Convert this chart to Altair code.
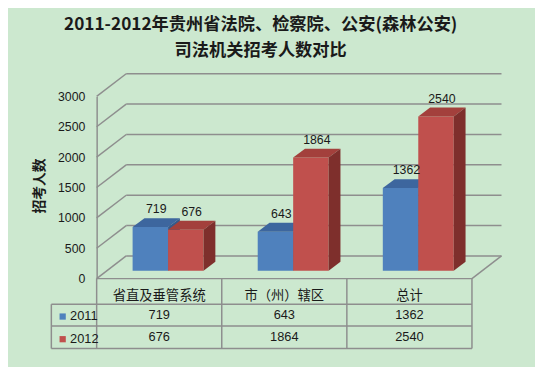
import altair as alt
import pandas as pd

# ---------------- data ----------------
categories = ["省直及垂管系统", "市（州）辖区", "总计"]
series = ["2011", "2012"]
values_2011 = [719, 643, 1362]
values_2012 = [676, 1864, 2540]
y_ticks = [0, 500, 1000, 1500, 2000, 2500, 3000]
title_lines = ["2011-2012年贵州省法院、检察院、公安(森林公安)", "司法机关招考人数对比"]
axis_title = "招考人数"

# ---------------- styles / geometry ----------------
BG = "#CCE8CF"
GRID = "#8E8E8E"
front_colors = ["#4F81BD", "#C0504D"]
top_colors = ["#3D669E", "#A3403C"]
side_colors = ["#355A8C", "#7E2F2C"]
FONT = "Liberation Sans"
CJK = "Noto Sans CJK SC"

W, H = 381, 185          # plot area (front plane)
YMAX = 3000
BAR = 36 / 127           # bar width in category units
DXU = 12 / 127           # bar depth (x) in category units
DYU = 9 * YMAX / H       # bar depth (y) in value units
WALL_DX, WALL_DY = 30, -23   # depth of the 3-D box in px
BAR_DX, BAR_DY = 9, -8       # bars sit inside the box

all_values = [values_2011, values_2012]

bars, tops, sides, labels = [], [], [], []
for si, s in enumerate(series):
    for ci, cat in enumerate(categories):
        v = all_values[si][ci]
        c = ci + 0.5
        xl = c - BAR if si == 0 else c
        xr = xl + BAR
        key = f"{s}-{ci}"
        bars.append(dict(series=s, cat=cat, xl=xl, xr=xr, v=v, zero=0))
        tops.append(dict(series=s, key=key, y=v, xa=xl, xb=xr))
        tops.append(dict(series=s, key=key, y=v + DYU, xa=xl + DXU, xb=xr + DXU))
        sides.append(dict(series=s, key=key, x=xr, ya=v, yb=0))
        sides.append(dict(series=s, key=key, x=xr + DXU, ya=v + DYU, yb=DYU))
        labels.append(dict(series=s, xm=(xl + xr) / 2, v=v))

bars_df = pd.DataFrame(bars)
tops_df = pd.DataFrame(tops)
sides_df = pd.DataFrame(sides)
labels_df = pd.DataFrame(labels)
ticks_df = pd.DataFrame({"v": y_ticks})
cat_df = pd.DataFrame({"cat": categories, "c": [i + 0.5 for i in range(len(categories))]})
bounds_df = pd.DataFrame({"b": list(range(len(categories) + 1))})
tab_df = pd.DataFrame(
    [dict(series=s, c=ci + 0.5, v=all_values[si][ci])
     for si, s in enumerate(series) for ci in range(len(categories))]
)

xs = alt.Scale(domain=[0, len(categories)], nice=False, zero=False)
ys = alt.Scale(domain=[0, YMAX], nice=False)
y_axis = alt.Axis(
    values=y_ticks, format="d", title=axis_title, grid=False, ticks=False,
    domain=True, domainColor=GRID, domainWidth=1.5,
    labelFont=FONT, labelFontSize=12.5, labelColor="#1a1a1a", labelPadding=12,
    titleFont=CJK, titleFontSize=14, titleFontWeight="bold", titleColor="#1a1a1a",
    titleAngle=-90, titleX=-58, titleY=H / 2 - 2, titleAlign="center", titleBaseline="middle",
)

# ---------------- 3-D box (walls, floor) ----------------
left_wall = alt.Chart(ticks_df).mark_rule(
    color=GRID, strokeWidth=1.5, x2Offset=WALL_DX, y2Offset=WALL_DY
).encode(
    x=alt.X(datum=0, type="quantitative", scale=xs, axis=None),
    x2=alt.X2(datum=0),
    y=alt.Y("v:Q", scale=ys, axis=y_axis),
    y2="v:Q",
)
back_wall = alt.Chart(ticks_df).mark_rule(
    color=GRID, strokeWidth=1.5,
    xOffset=WALL_DX, x2Offset=WALL_DX, yOffset=WALL_DY
).encode(
    x=alt.X(datum=0, type="quantitative", scale=xs, axis=None),
    x2=alt.X2(datum=len(categories)),
    y=alt.Y("v:Q", scale=ys, axis=y_axis),
)
floor_right = alt.Chart(ticks_df.head(1)).mark_rule(
    color=GRID, strokeWidth=1.5, x2Offset=WALL_DX, y2Offset=WALL_DY
).encode(
    x=alt.X(datum=len(categories), type="quantitative", scale=xs, axis=None),
    x2=alt.X2(datum=len(categories)),
    y=alt.Y("v:Q", scale=ys, axis=y_axis),
    y2="v:Q",
)

# ---------------- bars ----------------
layers = [left_wall, back_wall, floor_right]
for si, s in enumerate(series):
    front = alt.Chart(bars_df).transform_filter(alt.datum.series == s).mark_rect(
        xOffset=BAR_DX, x2Offset=BAR_DX, yOffset=BAR_DY, y2Offset=BAR_DY
    ).encode(
        x=alt.X("xl:Q", scale=xs, axis=None),
        x2="xr:Q",
        y=alt.Y("v:Q", scale=ys, axis=y_axis),
        y2="zero:Q",
        color=alt.Color(
            "series:N",
            scale=alt.Scale(domain=series, range=front_colors),
            legend=alt.Legend(
                title=None, orient="none", legendX=-41, legendY=H + 32,
                direction="vertical", symbolType="square", symbolSize=40,
                symbolStrokeWidth=0, symbolOffset=0, labelOffset=1,
                labelFont=FONT, labelFontSize=13, labelColor="#1a1a1a",
                rowPadding=9, padding=0,
            ),
        ),
    )
    top = alt.Chart(tops_df).transform_filter(alt.datum.series == s).mark_area(
        orient="horizontal", color=top_colors[si],
        xOffset=BAR_DX, x2Offset=BAR_DX, yOffset=BAR_DY,
    ).encode(
        y=alt.Y("y:Q", scale=ys, axis=y_axis),
        x=alt.X("xa:Q", scale=xs, axis=None),
        x2="xb:Q",
        detail="key:N",
    )
    side = alt.Chart(sides_df).transform_filter(alt.datum.series == s).mark_area(
        orient="vertical", color=side_colors[si],
        xOffset=BAR_DX, yOffset=BAR_DY, y2Offset=BAR_DY,
    ).encode(
        x=alt.X("x:Q", scale=xs, axis=None),
        y=alt.Y("ya:Q", scale=ys, axis=y_axis),
        y2="yb:Q",
        detail="key:N",
    )
    layers += [front, top, side]

value_labels = alt.Chart(labels_df).mark_text(
    font=FONT, fontSize=12.5, color="#1a1a1a", dx=BAR_DX + 6, dy=BAR_DY - 18, baseline="middle"
).encode(
    x=alt.X("xm:Q", scale=xs, axis=None),
    y=alt.Y("v:Q", scale=ys, axis=y_axis),
    text=alt.Text("v:Q", format="d"),
)
layers.append(value_labels)

# ---------------- data table ----------------
ROW1, ROW2, ROW3 = H + 26, H + 48, H + 71
front_edge = alt.Chart(ticks_df.head(1)).mark_rule(color=GRID, strokeWidth=1.5).encode(
    x=alt.X(datum=0, type="quantitative", scale=xs, axis=None),
    x2=alt.X2(datum=len(categories)),
    y=alt.Y("v:Q", scale=ys, axis=y_axis),
)
h_lines = alt.Chart(pd.DataFrame({"r": [ROW1, ROW2, ROW3]})).mark_rule(
    color=GRID, strokeWidth=1.5
).encode(
    x=alt.value(-46), x2=alt.value(W), y=alt.Y("r:Q", scale=None),
)
v_lines = alt.Chart(bounds_df).mark_rule(color=GRID, strokeWidth=1.5).encode(
    x=alt.X("b:Q", scale=xs, axis=None), y=alt.value(H), y2=alt.value(ROW3),
)
legend_edge = alt.Chart(ticks_df.head(1)).mark_rule(color=GRID, strokeWidth=1.5).encode(
    x=alt.value(-46), y=alt.value(ROW1), y2=alt.value(ROW3),
)
cat_text = alt.Chart(cat_df).mark_text(
    font=CJK, fontSize=13.5, color="#1a1a1a", baseline="middle"
).encode(
    x=alt.X("c:Q", scale=xs, axis=None), y=alt.value(H + 18), text="cat:N",
)
row_text = []
for si, s in enumerate(series):
    row_text.append(
        alt.Chart(tab_df).transform_filter(alt.datum.series == s).mark_text(
            font=FONT, fontSize=13, color="#1a1a1a", baseline="middle"
        ).encode(
            x=alt.X("c:Q", scale=xs, axis=None),
            y=alt.value(H + 37 + 22 * si),
            text=alt.Text("v:Q", format="d"),
        )
    )
layers += [front_edge, h_lines, v_lines, legend_edge, cat_text] + row_text

chart = alt.layer(*layers).properties(
    width=W, height=H,
    title=alt.Title(
        title_lines, font=CJK, fontSize=17.5, fontWeight="bold", color="#1a1a1a",
        anchor="middle", dx=-24, offset=14, lineHeight=26,
    ),
    autosize=alt.AutoSizeParams(type="none"),
    padding={"left": 90, "top": 87, "right": 64, "bottom": 87},
    background=BG,
).configure_view(stroke=None)

chart.save("out.html", embed_options={"renderer": "svg", "actions": False})
